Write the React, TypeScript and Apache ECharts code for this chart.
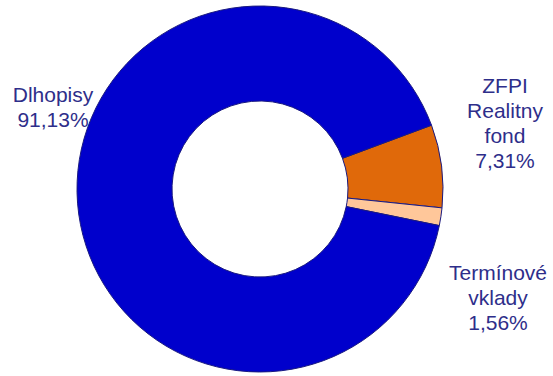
import React, { useEffect, useRef } from "react";
import * as echarts from "echarts";

const categories = ["ZFPI\nRealitny\nfond", "Termínové\nvklady", "Dlhopisy"];
const values = [7.31, 1.56, 91.13];
const valueLabels = ["7,31%", "1,56%", "91,13%"];
const colors = ["#E0690A", "#FFC79A", "#0000CC"];

const labelPos: Record<number, [number, number]> = {
  0: [505, 123],
  1: [498, 297],
  2: [53, 107],
};

export default function App() {
  const ref = useRef<HTMLDivElement>(null);
  useEffect(() => {
    document.body.style.margin = "0";
    const chart = echarts.init(ref.current!, null, { renderer: "svg" });
    chart.setOption({
      animation: false,
      backgroundColor: "#ffffff",
      series: [
        {
          type: "pie",
          center: [260, 189],
          radius: [88, 183],
          startAngle: 20.4,
          clockwise: true,
          avoidLabelOverlap: false,
          itemStyle: { borderColor: "#1a1a80", borderWidth: 1 },
          label: {
            show: true,
            position: "outside",
            formatter: (p: any) => `${p.name}\n${valueLabels[p.dataIndex]}`,
            fontFamily: "Liberation Sans, Arial, sans-serif",
            fontSize: 21,
            lineHeight: 25,
            color: "#2e2e8a",
            align: "center",
          },
          labelLine: { show: false },
          labelLayout: (params: any) => {
            const pos = labelPos[params.dataIndex];
            return {
              x: pos[0],
              y: pos[1],
              align: "center",
              verticalAlign: "middle",
            };
          },
          emphasis: { disabled: true },
          data: categories.map((c, i) => ({
            name: c,
            value: values[i],
            itemStyle: { color: colors[i] },
          })),
        },
      ],
    });
    return () => chart.dispose();
  }, []);
  return (
    <div
      ref={ref}
      style={{ position: "absolute", left: 0, top: 0, width: 553, height: 376 }}
    />
  );
}
